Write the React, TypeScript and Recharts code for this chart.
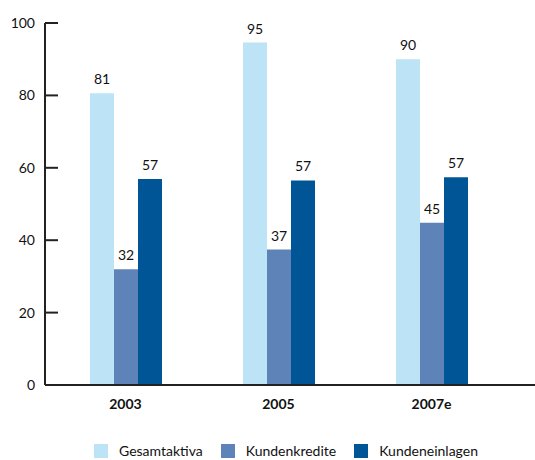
import { BarChart, Bar, XAxis, YAxis, Legend, LabelList } from "recharts";

const years = ["2003", "2005", "2007e"];
const gesamtaktiva = [80.6, 94.6, 90.0];
const kundenkredite = [32.0, 37.4, 44.8];
const kundeneinlagen = [56.9, 56.5, 57.4];
const yTicks = [0, 20, 40, 60, 80, 100];
const seriesNames = ["Gesamtaktiva", "Kundenkredite", "Kundeneinlagen"];
const seriesColors = ["#bde3f7", "#5d83b8", "#005596"];

const chartData = years.map((year, i) => ({
  year,
  Gesamtaktiva: gesamtaktiva[i],
  Kundenkredite: kundenkredite[i],
  Kundeneinlagen: kundeneinlagen[i],
}));

const font = "Lato, 'Open Sans', sans-serif";

const YTick = (props: any) => {
  const { x, y, payload } = props;
  return (
    <g>
      <line x1={x} x2={x + 13} y1={y} y2={y} stroke="#222" strokeWidth={2} />
      <text x={x - 10} y={y} dy="0.35em" textAnchor="end" fontSize={14} fill="#111" fontFamily={font}>
        {payload.value}
      </text>
    </g>
  );
};

// fixed order, recharts sorts the payload otherwise
const LegendContent = () => (
  <div style={{ display: "flex", paddingLeft: 94, paddingTop: 13, fontFamily: font, fontSize: 14, lineHeight: "16px", color: "#111" }}>
    {seriesNames.map((name, i) => (
      <div key={name} style={{ display: "flex", alignItems: "center", marginRight: 18 }}>
        <span style={{ width: 14, height: 14, background: seriesColors[i], marginRight: 11, display: "inline-block" }} />
        <span>{name}</span>
      </div>
    ))}
  </div>
);

export default function App() {
  return (
    <div style={{ position: "absolute", left: 0, top: 0, background: "#fff" }}>
      <BarChart
        width={535}
        height={460}
        data={chartData}
        margin={{ top: 23, right: 0, bottom: 0, left: 0 }}
        barGap={0}
        barSize={24}
      >
        <YAxis
          width={45}
          domain={[0, 100]}
          ticks={yTicks}
          tickLine={false}
          tickSize={0}
          tickMargin={0}
          axisLine={{ stroke: "#222", strokeWidth: 2 }}
          tick={<YTick />}
        />
        <XAxis
          dataKey="year"
          height={45}
          padding={{ left: 4, right: 27 }}
          tickLine={false}
          tickSize={0}
          tickMargin={14}
          axisLine={{ stroke: "#222", strokeWidth: 2 }}
          tick={{ fill: "#111", fontSize: 14, fontWeight: 700, fontFamily: font }}
        />
        <Legend verticalAlign="bottom" align="left" height={30} content={<LegendContent />} />
        {seriesNames.map((name, i) => (
          <Bar key={name} dataKey={name} fill={seriesColors[i]} isAnimationActive={false}>
            <LabelList
              dataKey={name}
              position="top"
              offset={9}
              formatter={(v: any) => Math.round(v)}
              fill="#111"
              fontSize={14}
              fontFamily={font}
            />
          </Bar>
        ))}
      </BarChart>
    </div>
  );
}
